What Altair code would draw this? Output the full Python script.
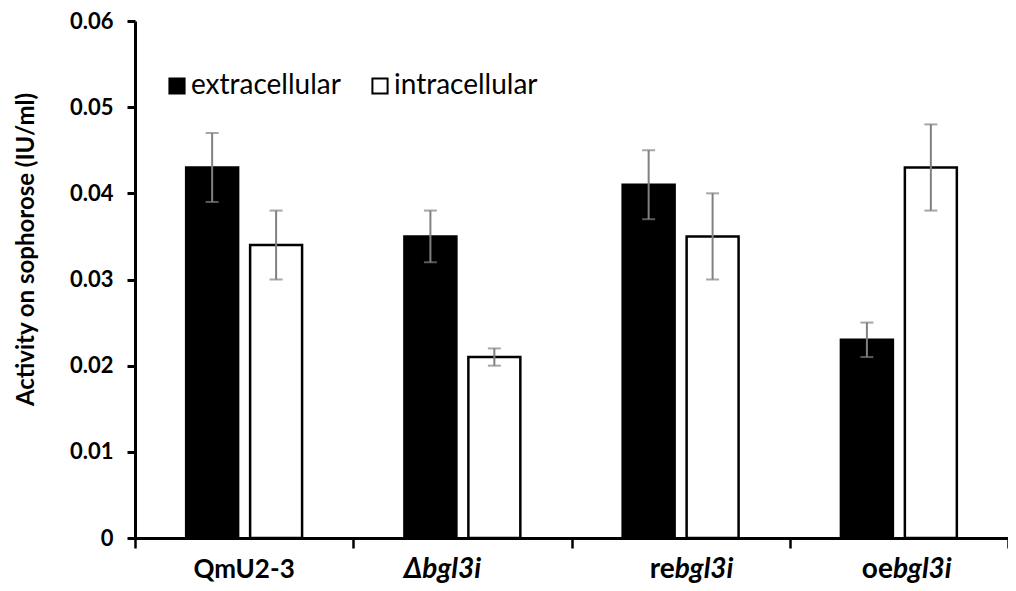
import altair as alt
import pandas as pd

# ---- data ----
groups = ["QmU2-3", "Δbgl3i", "rebgl3i", "oebgl3i"]
label_prefix = ["QmU2-3", "", "re", "oe"]
label_italic = ["", "Δbgl3i", "bgl3i", "bgl3i"]
series = ["extracellular", "intracellular"]
ext_values = [0.043, 0.035, 0.041, 0.023]
ext_err = [0.004, 0.003, 0.004, 0.002]
int_values = [0.034, 0.021, 0.035, 0.043]
int_err = [0.004, 0.001, 0.005, 0.005]
y_ticks = [0, 0.01, 0.02, 0.03, 0.04, 0.05, 0.06]

rows = []
for g, v, e in zip(groups, ext_values, ext_err):
    rows.append({"group": g, "series": series[0], "value": v, "lo": v - e, "hi": v + e})
for g, v, e in zip(groups, int_values, int_err):
    rows.append({"group": g, "series": series[1], "value": v, "lo": v - e, "hi": v + e})
df = pd.DataFrame(rows)

lab = pd.DataFrame({"group": groups, "prefix": label_prefix, "ital": label_italic})
lab["kind"] = ["plain" if i == "" else ("ital" if p == "" else "mixed")
               for p, i in zip(label_prefix, label_italic)]

FONT = "Lato"
W, H = 873, 517
XL = 28  # x label font size
DY = 32

xenc = alt.X("group:N", sort=groups,
             scale=alt.Scale(paddingInner=0, paddingOuter=0),
             axis=alt.Axis(labels=False, title=None, tickBand="extent", tickSize=10,
                           tickWidth=2.5, tickColor="black", domainColor="black",
                           domainWidth=3))
xplain = alt.X("group:N", sort=groups)
xoff = alt.XOffset("series:N", sort=series,
                   scale=alt.Scale(paddingInner=0.1875, paddingOuter=0.8))

yaxis = alt.Axis(values=y_ticks,
                 labelExpr="datum.value == 0 ? '0' : format(datum.value, '.2f')",
                 labelFont=FONT, labelFontSize=22, labelFontWeight="bold", labelColor="black",
                 labelPadding=14, tickSize=8, tickWidth=3, tickColor="black",
                 domainColor="black", domainWidth=3, grid=False,
                 title="Activity on sophorose (IU/ml)", titleFont=FONT, titleFontSize=24,
                 titleFontWeight="bold", titleColor="black", titleX=-109, titleY=228,
                 titleAngle=270, titleAlign="center", titleBaseline="middle")

bars = alt.Chart(df).mark_bar(stroke="black", strokeWidth=2.5).encode(
    x=xenc,
    xOffset=xoff,
    y=alt.Y("value:Q", scale=alt.Scale(domain=[0, 0.06], nice=False), axis=yaxis),
    fill=alt.Fill("series:N", sort=series,
                  scale=alt.Scale(domain=series, range=["black", "white"]),
                  legend=alt.Legend(orient="none", legendX=28, legendY=51,
                                    direction="horizontal", title=None,
                                    symbolType="square", symbolSize=230,
                                    symbolStrokeColor="black", symbolStrokeWidth=2,
                                    labelFont=FONT, labelFontSize=28, labelColor="black",
                                    labelOffset=0, columnPadding=25, labelLimit=0)),
)

err = alt.Chart(df).mark_rule(color="#808080", strokeWidth=2).encode(
    x=xplain, xOffset=xoff, y="lo:Q", y2="hi:Q")
cap_lo = alt.Chart(df).mark_tick(color="#808080", thickness=2, size=13, orient="horizontal").encode(
    x=xplain, xOffset=xoff, y="lo:Q")
cap_hi = alt.Chart(df).mark_tick(color="#808080", thickness=2, size=13, orient="horizontal").encode(
    x=xplain, xOffset=xoff, y="hi:Q")

tbase = alt.Chart(lab)
plain = tbase.transform_filter("datum.kind == 'plain'").mark_text(
    font=FONT, fontSize=26, fontWeight="bold", align="center", baseline="middle",
    dy=DY, color="black").encode(x=xplain, y=alt.datum(0), text="prefix:N")
ital = tbase.transform_filter("datum.kind == 'ital'").mark_text(
    font=FONT, fontSize=XL, fontWeight="bold", fontStyle="italic", align="center",
    baseline="middle", dy=DY, dx=-20, color="black").encode(x=xplain, y=alt.datum(0), text="ital:N")
mixed_p = tbase.transform_filter("datum.kind == 'mixed'").mark_text(
    font=FONT, fontSize=XL, fontWeight="bold", align="right", baseline="middle",
    dy=DY, dx=-6, color="black").encode(x=xplain, y=alt.datum(0), text="prefix:N")
mixed_i = tbase.transform_filter("datum.kind == 'mixed'").mark_text(
    font=FONT, fontSize=XL, fontWeight="bold", fontStyle="italic", align="left",
    baseline="middle", dy=DY, dx=-6, color="black").encode(x=xplain, y=alt.datum(0), text="ital:N")

chart = alt.layer(bars, err, cap_lo, cap_hi, plain, ital, mixed_p, mixed_i).properties(
    width=W, height=H,
    padding={"left": 127, "top": 13, "right": 0, "bottom": 45},
    autosize=alt.AutoSizeParams(type="none"),
    background="white",
).configure_view(stroke=None)

chart.save("out.html", embed_options={"renderer": "svg", "actions": False})
